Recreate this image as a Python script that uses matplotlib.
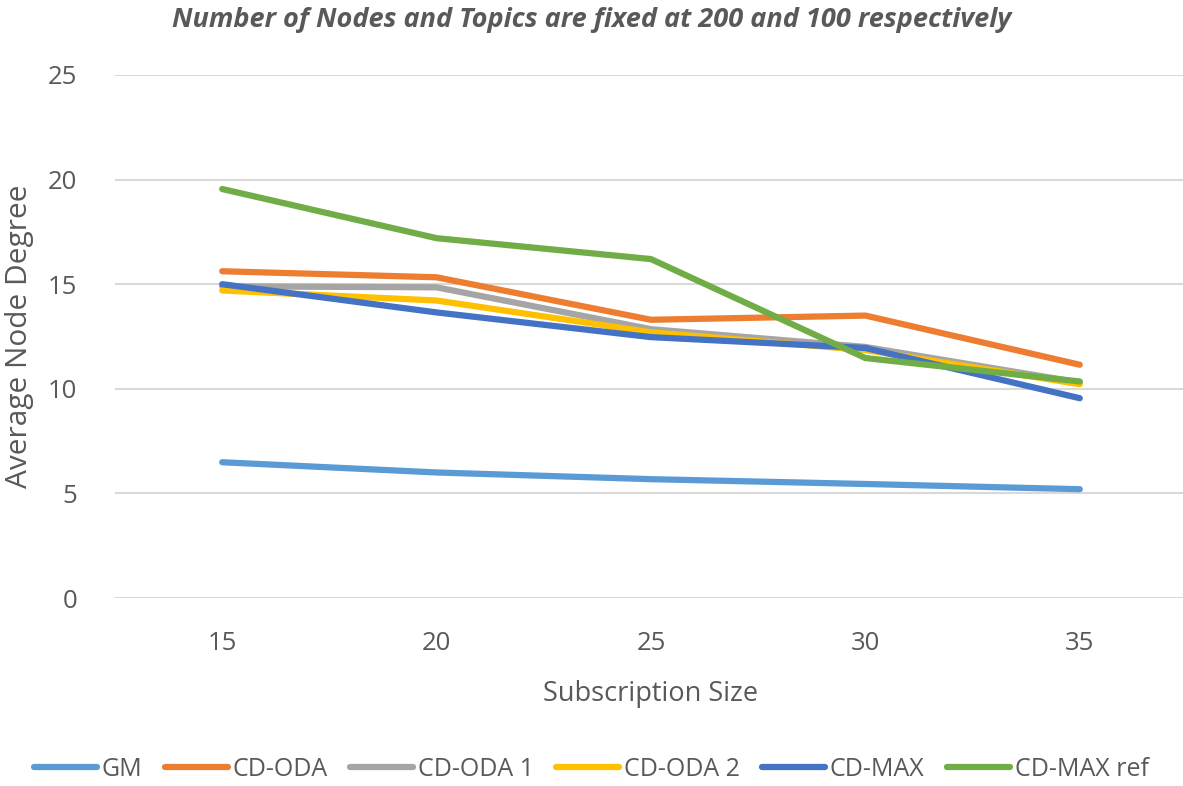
import numpy as np
import matplotlib.pyplot as plt

sizes = ['15', '20', '25', '30', '35']
gm = [6.49, 6.0, 5.68, 5.45, 5.2]
cd_oda = [15.62, 15.33, 13.3, 13.5, 11.15]
cd_oda1 = [14.9, 14.85, 12.85, 12.0, 10.3]
cd_oda2 = [14.7, 14.22, 12.7, 11.85, 10.22]
cd_max = [15.0, 13.65, 12.47, 11.95, 9.55]
cd_max_ref = [19.55, 17.2, 16.2, 11.47, 10.35]

series = [
    ('GM', gm, '#5B9BD5'),
    ('CD-ODA', cd_oda, '#ED7D31'),
    ('CD-ODA 1', cd_oda1, '#A5A5A5'),
    ('CD-ODA 2', cd_oda2, '#FFC000'),
    ('CD-MAX', cd_max, '#4472C4'),
    ('CD-MAX ref', cd_max_ref, '#70AD47'),
]

plt.rcParams['font.family'] = ['Open Sans', 'DejaVu Sans']
text_color = '#595959'

fig = plt.figure(figsize=(11.83, 7.86), dpi=100)
ax = fig.add_axes([115 / 1183, 1 - 598 / 786, (1187 - 115) / 1183, (598 - 75) / 786])

x = np.arange(len(sizes))
for name, vals, color in series:
    ax.plot(x, vals, color=color, linewidth=4.5, solid_capstyle='round',
            solid_joinstyle='round', label=name)

ax.set_xlim(-0.5, 4.5)
ax.set_ylim(0, 25)
ax.set_yticks([0, 5, 10, 15, 20, 25])
ax.set_xticks(x)
ax.set_xticklabels(sizes)
ax.grid(axis='y', color='#D9D9D9', linewidth=1.5)
ax.set_axisbelow(True)
for s in ax.spines.values():
    s.set_visible(False)
ax.tick_params(length=0, labelsize=18.5, colors=text_color, pad=24)
ax.tick_params(axis='y', pad=27)
for lbl in ax.get_yticklabels() + ax.get_xticklabels():
    lbl.set_color(text_color)

ax.set_xlabel('Subscription Size', fontsize=19.5, color=text_color, labelpad=17)
ax.set_ylabel('Average Node Degree', fontsize=21.5, color=text_color, labelpad=10)

fig.text(0.5, 1 - 20 / 786, 'Number of Nodes and Topics are fixed at 200 and 100 respectively',
         ha='center', va='center', fontsize=19.5, fontweight='bold', fontstyle='italic',
         color=text_color)

fig.legend(loc='center', bbox_to_anchor=(0.5, 1 - 769 / 786), ncol=6, frameon=False,
           fontsize=18, handlelength=2.5, handletextpad=0.2, columnspacing=0.9,
           labelcolor=text_color)

fig.savefig('out.png', dpi=100)
